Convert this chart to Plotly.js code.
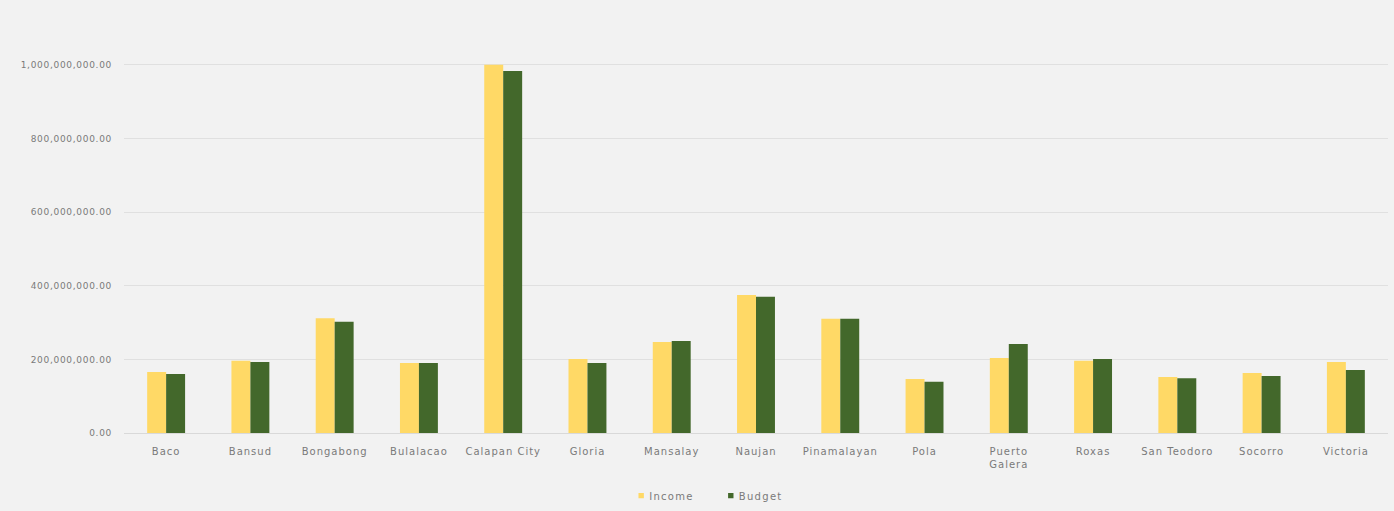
<!DOCTYPE html>
<html>
<head>
<meta charset="utf-8">
<script src="https://cdn.plot.ly/plotly-3.0.1.min.js"></script>
<style>
html,body{margin:0;padding:0;background:#f2f2f2;}
#chart{width:1394px;height:511px;}
.xtick text{letter-spacing:1px;}
.ytick text{letter-spacing:0.7px;}
.legendtext{letter-spacing:1.3px;}
.legendpoints path{transform:translate(32px,0) scale(0.45);}
</style>
</head>
<body>
<div id="chart"></div>
<script>
const categories = ["Baco","Bansud","Bongabong","Bulalacao","Calapan City","Gloria","Mansalay","Naujan","Pinamalayan","Pola","Puerto<br>Galera","Roxas","San Teodoro","Socorro","Victoria"];
const income = [166e6,196e6,312e6,190e6,1000e6,201e6,247e6,375e6,310e6,147e6,204e6,196e6,152e6,163e6,193e6];
const budget = [160e6,193e6,302e6,190e6,983e6,190e6,250e6,370e6,310e6,139e6,242e6,201e6,149e6,155e6,171e6];
const yTicks = [0,200e6,400e6,600e6,800e6,1000e6];
const yTickText = ["0.00","200,000,000.00","400,000,000.00","600,000,000.00","800,000,000.00","1,000,000,000.00"];

const traces = [
  {type:"bar", name:"Income", x:categories, y:income, marker:{color:"#FFD966"}},
  {type:"bar", name:"Budget", x:categories, y:budget, marker:{color:"#43682B"}}
];
const layout = {
  width:1394, height:511,
  paper_bgcolor:"#f2f2f2", plot_bgcolor:"#f2f2f2",
  margin:{l:124, r:6, t:28, b:78, autoexpand:false},
  barmode:"group", bargap:0.55, bargroupgap:0,
  font:{family:"DejaVu Sans, sans-serif", size:10, color:"#7a7a7a"},
  xaxis:{type:"category", showgrid:false, zeroline:false, showline:true, linecolor:"#d9d9d9", linewidth:1, tickfont:{size:10, color:"#7a7a7a"}, ticks:"", ticklabelstandoff:9},
  yaxis:{range:[0,1.1e9], tickvals:yTicks, ticktext:yTickText, showgrid:true, gridcolor:"#e0e0e0", gridwidth:1, zeroline:false, showline:false, tickfont:{size:9, color:"#7a7a7a"}, ticks:"", ticklabelstandoff:11},
  showlegend:true,
  legend:{orientation:"h", xref:"container", yref:"container", x:0.437, xanchor:"left", y:0.03, yanchor:"middle", font:{size:10, color:"#7a7a7a"}, itemwidth:30, bgcolor:"rgba(0,0,0,0)"}
};
Plotly.newPlot("chart", traces, layout, {displayModeBar:false, staticPlot:true});
</script>
</body>
</html>
